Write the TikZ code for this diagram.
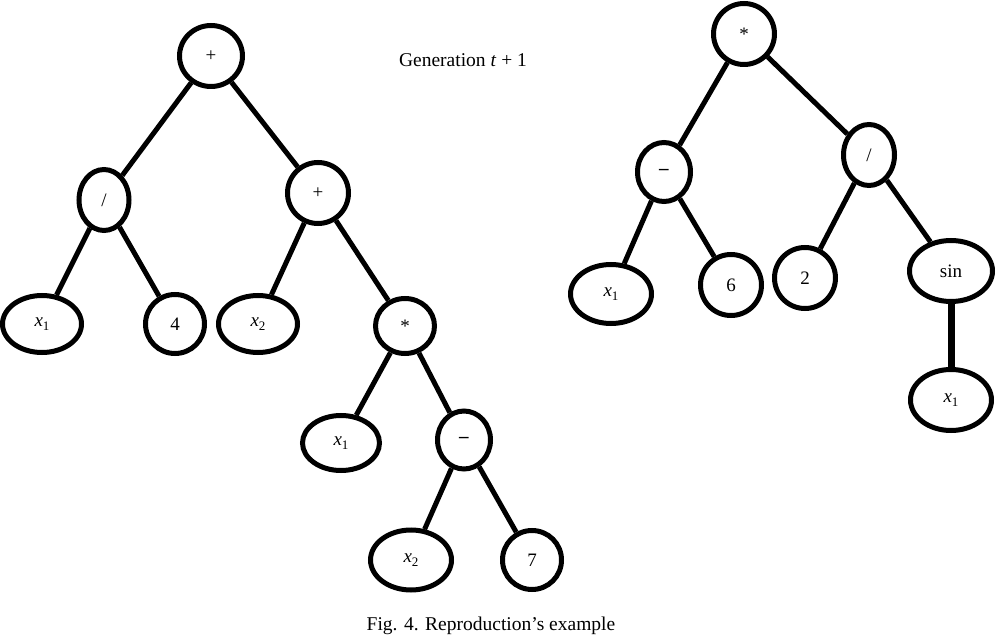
\documentclass[tikz,border=0pt]{standalone}
\usepackage{fontspec}
\setmainfont{Liberation Serif}
\usetikzlibrary{shapes.geometric}
\newcommand\xv[1]{\textit{x}\raisebox{-4pt}{\fontsize{13pt}{13pt}\selectfont #1}}
\tikzset{
  nd/.style={draw, ellipse, line width=5pt, inner sep=0pt, font=\fontsize{19pt}{19pt}\selectfont},
  ed/.style={line width=5pt},
  txt/.style={font=\fontsize{19.5pt}{19.5pt}\selectfont, inner sep=0pt}
}
\begin{document}
\begin{tikzpicture}[x=1pt,y=-1pt]
\useasboundingbox (0,0) rectangle (999,636);
% left tree
\node[nd, minimum width=63pt, minimum height=61pt] (a) at (211,56) {+};
\node[nd, minimum width=50pt, minimum height=61pt] (b) at (104,200) {/};
\node[nd, minimum width=61pt, minimum height=61pt] (c) at (318,193) {+};
\node[nd, minimum width=79pt, minimum height=57pt] (d) at (42,324) {\xv{1}};
\node[nd, minimum width=59pt, minimum height=59pt] (e) at (175,324) {4};
\node[nd, minimum width=79pt, minimum height=57pt] (f) at (258,324) {\xv{2}};
\node[nd, minimum width=59pt, minimum height=55pt] (g) at (405,326) {*};
\node[nd, minimum width=77pt, minimum height=55pt] (h) at (341,443) {\xv{1}};
\node[nd, minimum width=53pt, minimum height=58pt] (i) at (464,440) {\textbf{--}};
\node[nd, minimum width=81pt, minimum height=60pt] (j) at (411,560) {\xv{2}};
\node[nd, minimum width=59pt, minimum height=59pt] (k) at (532,560) {7};
\draw[ed] (a) -- (b);
\draw[ed] (a) -- (c);
\draw[ed] (b) -- (d);
\draw[ed] (b) -- (e);
\draw[ed] (c) -- (f);
\draw[ed] (c) -- (g);
\draw[ed] (g) -- (h);
\draw[ed] (g) -- (i);
\draw[ed] (i) -- (j);
\draw[ed] (i) -- (k);
% right tree
\node[nd, minimum width=61pt, minimum height=61pt] (A) at (744,34) {*};
\node[nd, minimum width=53pt, minimum height=59pt] (B) at (664,172) {\textbf{--}};
\node[nd, minimum width=51pt, minimum height=61pt] (C) at (869,155) {/};
\node[nd, minimum width=81pt, minimum height=59pt] (D) at (611,294) {\xv{1}};
\node[nd, minimum width=61pt, minimum height=61pt] (E) at (731,285) {6};
\node[nd, minimum width=61pt, minimum height=61pt] (F) at (805,278) {2};
\node[nd, minimum width=83pt, minimum height=61pt] (G) at (951,271) {sin};
\node[nd, minimum width=81pt, minimum height=61pt] (H) at (951,400) {\xv{1}};
\draw[ed] (A) -- (B);
\draw[ed] (A) -- (C);
\draw[ed] (B) -- (D);
\draw[ed] (B) -- (E);
\draw[ed] (C) -- (F);
\draw[ed] (C) -- (G);
\draw[line width=7pt] (G) -- (H);
% texts
\node[txt] (gen) at (463,60) {Generation \textit{t} + 1};
\node[txt] (cap) at (491,626) {Fig. 4. Reproduction’s example};
\end{tikzpicture}
\end{document}
